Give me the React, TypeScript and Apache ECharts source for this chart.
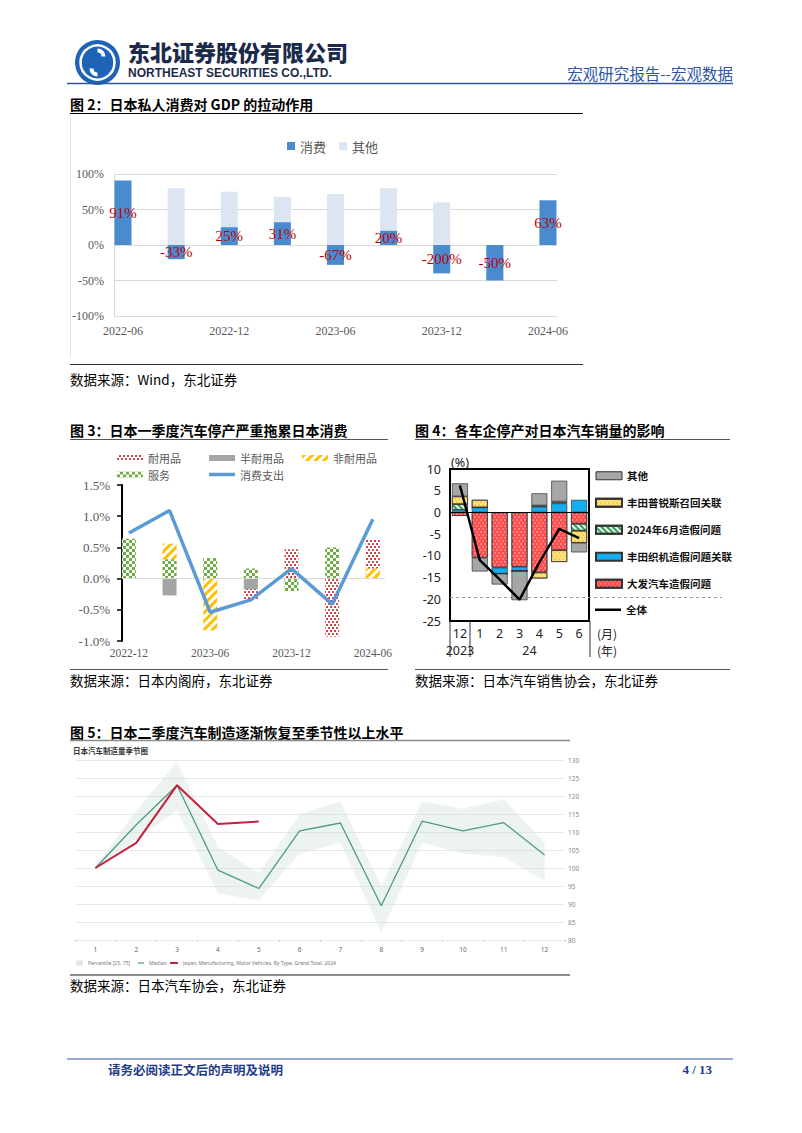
import { useEffect, useRef } from 'react';
import * as echarts from 'echarts';

// ---------- Figure 2 ----------
const fig2Cats = ['2022-06', '2022-09', '2022-12', '2023-03', '2023-06', '2023-09', '2023-12', '2024-03', '2024-06'];
const fig2Consumption = [91, -20, 25, 32, -28, 20, -40, -50, 63];
const fig2Other = [9, 80, 75, 68, 72, 80, 60, -50, 37];
const fig2Labels = ['91%', '-33%', '25%', '31%', '-67%', '20%', '-200%', '-50%', '63%'];
const fig2TickIdx = [0, 2, 4, 6, 8];

// ---------- Figure 3 ----------
const fig3Cats = ['2022-12', '2023-03', '2023-06', '2023-09', '2023-12', '2024-03', '2024-06'];
const fig3Durable = [0.12, 0.49, -0.13, -0.33, 0.47, -0.93, 0.62];
const fig3SemiDurable = [0, -0.27, 0.16, -0.17, -0.05, 0.03, 0.11];
const fig3NonDurable = [0.02, 0.56, -0.83, 0, -0.06, 0, 0.16];
const fig3Services = [0.64, 0.31, 0.33, 0.16, -0.2, 0.5, 0];
const fig3Total = [0.73, 1.09, -0.54, -0.34, 0.16, -0.41, 0.95];
const fig3TickIdx = [0, 2, 4, 6];

// ---------- Figure 4 ----------
const fig4Cats = ['12', '1', '2', '3', '4', '5', '6'];
const fig4Daihatsu = [-0.8, -10.4, -12.7, -12.5, -13.8, -8.7, -2.6];
const fig4ToyotaInd = [0.6, 1.15, -1.4, -1.0, 1.3, 2.1, 2.9];
const fig4June = [1.3, 0, 0, 0, 0.3, 0.4, -1.6];
const fig4Prius = [1.8, 1.75, 0, 0, -1.4, -2.7, -2.8];
const fig4Other = [3.0, -3.2, -2.5, -6.7, 2.8, 4.8, -2.2];
const fig4Total = [6.2, -11.0, -15.4, -20.1, -11.5, -3.8, -5.9];
const fig4RefLevel = -19.5;

// ---------- Figure 5 ----------
const fig5Months = ['1', '2', '3', '4', '5', '6', '7', '8', '9', '10', '11', '12'];
const fig5P25 = [99.5, 108, 116, 93, 91, 104, 107, 82, 107, 104, 103, 96.5];
const fig5P75 = [100.5, 116, 129.5, 106, 98.5, 115, 118.5, 95, 118.5, 116.5, 119, 107];
const fig5Median = [100, 112, 123, 99.4, 94.3, 110.3, 112.5, 89.5, 113, 110.3, 112.6, 103.6];
const fig5Y2024 = [100, 107, 123, 112.2, 112.9];
const fig5Name2024 = 'Japan, Manufacturing, Motor Vehicles, By Type, Grand Total, 2024';

const SERIF = '"Liberation Serif", "Times New Roman", serif';
const CJK = '"Noto Sans CJK SC", "Noto Sans", sans-serif';

const dotRed = { symbol: 'circle', symbolSize: 0.9, color: '#C00000', dashArrayX: [[2, 2], [0, 2, 2, 0]], dashArrayY: [2, 1] };
const stripeYellow = { symbol: 'rect', symbolSize: 1, color: '#FFC000', dashArrayX: [1, 0], dashArrayY: [2.5, 2.5], rotation: -Math.PI / 4 };
const checkGreen = { symbol: 'rect', symbolSize: 1, color: '#70AD47', dashArrayX: [[3, 3], [0, 3, 3, 0]], dashArrayY: [3, 0] };
const dotPink = { symbol: 'circle', symbolSize: 0.7, color: 'rgba(255,215,215,0.9)', dashArrayX: [[1.5, 1.5], [0, 1.5, 1.5, 0]], dashArrayY: [1.5, 0.5] };
const stripeGreen = { symbol: 'rect', symbolSize: 1, color: '#2F9E5C', dashArrayX: [1, 0], dashArrayY: [1.2, 1.8], rotation: Math.PI / 4 };
const dotOrange = { symbol: 'circle', symbolSize: 0.7, color: 'rgba(230,150,0,0.7)', dashArrayX: [[1.5, 1.5], [0, 1.5, 1.5, 0]], dashArrayY: [1.5, 0.5] };

function txt(x: number, y: number, text: string, o: any = {}) {
  return {
    type: 'text', x, y, silent: true,
    style: {
      text,
      fill: o.fill || '#000',
      fontSize: o.fontSize || 14,
      fontWeight: o.fontWeight || 'normal',
      fontFamily: o.fontFamily || CJK,
      textAlign: o.align || 'left',
      textVerticalAlign: 'middle',
    },
  };
}
function ln(x1: number, y1: number, x2: number, y2: number, stroke = '#000', lineWidth = 1, dash?: number[]) {
  return { type: 'line', silent: true, shape: { x1, y1, x2, y2 }, style: { stroke, lineWidth, lineDash: dash } };
}

function fig3Legend(left: number, top: number, name: string, h = 6, extra: any = {}) {
  return {
    left, top, padding: 0, itemWidth: 26, itemHeight: h, selectedMode: false,
    textStyle: { fontSize: 11, color: '#595959' },
    data: [{ name, icon: 'rect', ...extra }],
  };
}
function fig5Legend(left: number, name: string, w: number, h: number, color: string) {
  return {
    left, top: 960.5, padding: 0, itemWidth: w, itemHeight: h, selectedMode: false,
    textStyle: { fontSize: 5, color: '#777', fontFamily: '"Noto Sans", sans-serif' },
    data: [{ name, icon: 'rect', itemStyle: { color } }],
  };
}

function buildOption() {
  const bar2Label = {
    show: true, position: 'inside', color: '#C00000', fontFamily: SERIF, fontSize: 15,
    formatter: (p: any) => fig2Labels[p.dataIndex],
  };
  return {
    animation: false,
    textStyle: { fontFamily: CJK },
    grid: [
      { left: 114, top: 174, width: 443, height: 142, outerBoundsMode: 'none', containLabel: false },
      { left: 122, top: 485, width: 263, height: 156, outerBoundsMode: 'none', containLabel: false },
      { left: 450, top: 469, width: 139, height: 152, show: true, borderColor: '#000', borderWidth: 2, backgroundColor: 'transparent', outerBoundsMode: 'none', containLabel: false },
      { left: 75, top: 760, width: 490, height: 180, outerBoundsMode: 'none', containLabel: false },
    ],
    xAxis: [
      {
        gridIndex: 0, type: 'value', min: -0.17, max: 8.17,
        axisLine: { show: false }, axisTick: { show: false }, splitLine: { show: false },
        axisLabel: { customValues: fig2TickIdx, formatter: (v: number) => fig2Cats[Math.round(v)], color: '#595959', fontFamily: SERIF, fontSize: 12, margin: 9 },
      },
      {
        gridIndex: 1, type: 'value', min: -0.17, max: 6.3,
        axisLine: { show: false }, axisTick: { show: false }, splitLine: { show: false },
        axisLabel: { customValues: fig3TickIdx, formatter: (v: number) => fig3Cats[Math.round(v)], color: '#595959', fontFamily: SERIF, fontSize: 11.5, margin: 6 },
      },
      {
        gridIndex: 2, type: 'category', data: fig4Cats,
        axisLine: { show: false }, axisTick: { show: false },
        axisLabel: { color: '#222', fontSize: 12.5, fontFamily: '"Noto Sans", sans-serif', margin: 6 },
      },
      {
        gridIndex: 3, type: 'category', data: fig5Months,
        axisLine: { show: false }, axisTick: { show: true, length: 2, lineStyle: { color: '#ccc' } },
        axisLabel: { fontSize: 6.5, color: '#666', margin: 6, fontFamily: '"Noto Sans", sans-serif' },
      },
    ],
    yAxis: [
      {
        gridIndex: 0, type: 'value', min: -100, max: 100, interval: 50,
        axisLine: { show: true, onZero: false, lineStyle: { color: '#D9D9D9' } }, axisTick: { show: false },
        splitLine: { lineStyle: { color: '#D9D9D9' } },
        axisLabel: { formatter: '{value}%', color: '#595959', fontFamily: SERIF, fontSize: 12, margin: 10 },
      },
      {
        gridIndex: 1, type: 'value', min: -1, max: 1.5, interval: 0.5,
        axisLine: { show: true, onZero: false, lineStyle: { color: '#000', width: 2 } },
        axisTick: { show: true, length: 5, lineStyle: { color: '#000', width: 1.5 } },
        splitLine: { show: false },
        axisLabel: { formatter: (v: number) => v.toFixed(1) + '%', color: '#595959', fontFamily: SERIF, fontSize: 13, margin: 12 },
      },
      {
        gridIndex: 2, type: 'value', min: -25, max: 10, interval: 5,
        axisLine: { show: false }, axisTick: { show: false }, splitLine: { show: false },
        axisLabel: { color: '#222', fontSize: 12.5, fontFamily: '"Noto Sans", sans-serif', margin: 9 },
      },
      {
        gridIndex: 3, type: 'value', position: 'right', min: 80, max: 130, interval: 5,
        axisLine: { show: false }, axisTick: { show: false },
        splitLine: { lineStyle: { color: '#E9E9E9' } },
        axisLabel: { fontSize: 6.5, color: '#888', margin: 3, fontFamily: '"Noto Sans", sans-serif' },
      },
    ],
    legend: [
      {
        left: 287, top: 139.5, padding: 0, itemWidth: 8, itemHeight: 8, itemGap: 13, selectedMode: false,
        textStyle: { fontSize: 13, color: '#595959', fontFamily: CJK },
        data: [{ name: '消费', icon: 'rect' }, { name: '其他', icon: 'rect' }],
      },
      fig3Legend(117, 452.5, '耐用品'),
      fig3Legend(209, 452.5, '半耐用品'),
      fig3Legend(302, 452.5, '非耐用品'),
      fig3Legend(117, 469, '服务'),
      fig3Legend(209, 469, '消费支出', 3.5, { itemStyle: { color: '#5B9BD5' } }),
      {
        left: 595, top: 470.5, orient: 'vertical', padding: 0, itemWidth: 26, itemHeight: 8, itemGap: 16.5, selectedMode: false,
        textStyle: { fontSize: 10.5, fontWeight: 'bold', color: '#111' },
        data: [
          { name: '其他', icon: 'rect', itemStyle: { color: '#A6A6A6', borderColor: '#333', borderWidth: 1, decal: 'none' } },
          { name: '丰田普锐斯召回关联', icon: 'rect' },
          { name: '2024年6月造假问题', icon: 'rect' },
          { name: '丰田织机造假问题关联', icon: 'rect' },
          { name: '大发汽车造假问题', icon: 'rect' },
        ],
      },
      {
        left: 595, top: 604.5, padding: 0, itemWidth: 26, itemHeight: 2.5, selectedMode: false,
        textStyle: { fontSize: 10.5, fontWeight: 'bold', color: '#111' },
        data: [{ name: '全体', icon: 'rect', itemStyle: { color: '#000' } }],
      },
      fig5Legend(76, 'Percentile [25, 75]', 7, 5, '#DCE8E4'),
      fig5Legend(138, 'Median', 6, 1.2, '#4E9A84'),
      fig5Legend(170, fig5Name2024, 8, 2, '#C5203E'),
    ],
    series: [
      // Figure 2
      {
        name: '消费', type: 'bar', xAxisIndex: 0, yAxisIndex: 0, stack: 'f2', barWidth: 17, z: 3,
        itemStyle: { color: '#4A8BD0' }, label: bar2Label,
        data: fig2Consumption.map((v, i) => [i, v]),
      },
      {
        name: '其他', type: 'bar', xAxisIndex: 0, yAxisIndex: 0, stack: 'f2', barWidth: 17,
        itemStyle: { color: '#DCE6F2' },
        data: fig2Other.map((v, i) => [i, v]),
      },
      // Figure 3
      { name: '耐用品', type: 'bar', xAxisIndex: 1, yAxisIndex: 1, stack: 'f3', barWidth: 14, itemStyle: { color: '#fff', decal: dotRed }, data: fig3Durable.map((v, i) => [i, v]) },
      { name: '半耐用品', type: 'bar', xAxisIndex: 1, yAxisIndex: 1, stack: 'f3', barWidth: 14, itemStyle: { color: '#A5A5A5' }, data: fig3SemiDurable.map((v, i) => [i, v]) },
      { name: '非耐用品', type: 'bar', xAxisIndex: 1, yAxisIndex: 1, stack: 'f3', barWidth: 14, itemStyle: { color: '#fff', decal: stripeYellow }, data: fig3NonDurable.map((v, i) => [i, v]) },
      { name: '服务', type: 'bar', xAxisIndex: 1, yAxisIndex: 1, stack: 'f3', barWidth: 14, itemStyle: { color: '#fff', decal: checkGreen }, data: fig3Services.map((v, i) => [i, v]) },
      {
        name: '消费支出', type: 'line', xAxisIndex: 1, yAxisIndex: 1, symbol: 'none', z: 5,
        lineStyle: { color: '#5B9BD5', width: 3.5 }, itemStyle: { color: '#5B9BD5' },
        data: fig3Total.map((v, i) => [i, v]),
        markLine: { silent: true, symbol: ['none', 'none'], label: { show: false }, lineStyle: { color: '#D9D9D9', width: 1, type: 'solid' }, data: [{ yAxis: 0 }] },
      },
      // Figure 4
      { name: '大发汽车造假问题', type: 'bar', xAxisIndex: 2, yAxisIndex: 2, stack: 'f4', barWidth: 16, itemStyle: { color: '#FF4D4D', borderColor: '#333', borderWidth: 0.7, decal: dotPink }, data: fig4Daihatsu },
      { name: '丰田织机造假问题关联', type: 'bar', xAxisIndex: 2, yAxisIndex: 2, stack: 'f4', barWidth: 16, itemStyle: { color: '#12AEEF', borderColor: '#333', borderWidth: 0.7 }, data: fig4ToyotaInd },
      { name: '2024年6月造假问题', type: 'bar', xAxisIndex: 2, yAxisIndex: 2, stack: 'f4', barWidth: 16, itemStyle: { color: '#EEF8E8', borderColor: '#333', borderWidth: 0.7, decal: stripeGreen }, data: fig4June },
      { name: '丰田普锐斯召回关联', type: 'bar', xAxisIndex: 2, yAxisIndex: 2, stack: 'f4', barWidth: 16, itemStyle: { color: '#FFE27A', borderColor: '#333', borderWidth: 0.7, decal: dotOrange }, data: fig4Prius },
      { name: '其他', type: 'bar', xAxisIndex: 2, yAxisIndex: 2, stack: 'f4', barWidth: 16, itemStyle: { color: '#A6A6A6', borderColor: '#333', borderWidth: 0.7 }, data: fig4Other },
      {
        name: '全体', type: 'line', xAxisIndex: 2, yAxisIndex: 2, symbol: 'none', z: 5,
        lineStyle: { color: '#000', width: 2.5 }, itemStyle: { color: '#000' }, data: fig4Total,
        markLine: { silent: true, symbol: ['none', 'none'], label: { show: false }, lineStyle: { color: '#000', width: 1, type: 'solid' }, data: [{ yAxis: 0 }] },
      },
      // Figure 5
      { name: 'p25', type: 'line', xAxisIndex: 3, yAxisIndex: 3, stack: 'band', symbol: 'none', silent: true, lineStyle: { opacity: 0 }, data: fig5P25 },
      {
        name: 'Percentile [25, 75]', type: 'line', xAxisIndex: 3, yAxisIndex: 3, stack: 'band', symbol: 'none', silent: true,
        lineStyle: { opacity: 0 }, itemStyle: { color: '#DCE8E4' }, areaStyle: { color: 'rgba(200,220,214,0.5)' },
        data: fig5P75.map((v, i) => +(v - fig5P25[i]).toFixed(2)),
      },
      { name: 'Median', type: 'line', xAxisIndex: 3, yAxisIndex: 3, symbol: 'none', z: 4, lineStyle: { color: '#4E9A84', width: 1.3 }, itemStyle: { color: '#4E9A84' }, data: fig5Median },
      { name: fig5Name2024, type: 'line', xAxisIndex: 3, yAxisIndex: 3, symbol: 'none', z: 5, lineStyle: { color: '#C5203E', width: 2 }, itemStyle: { color: '#C5203E' }, data: fig5Y2024 },
    ],
  };
}

function buildGraphic(dashY: number, x2023: number, x24: number) {
  const blue = '#2F5597';
  return [
    // header
    { type: 'circle', silent: true, shape: { cx: 97.5, cy: 62.5, r: 22.5 }, style: { fill: '#1F63B6' } },
    { type: 'circle', silent: true, shape: { cx: 97.5, cy: 62.5, r: 17 }, style: { fill: 'none', stroke: '#fff', lineWidth: 2.5 } },
    { type: 'arc', silent: true, shape: { cx: 97.5, cy: 56.5, r: 6, startAngle: 0, endAngle: Math.PI * 1.5, clockwise: false }, style: { stroke: '#fff', lineWidth: 4, fill: 'none' } },
    { type: 'arc', silent: true, shape: { cx: 97.5, cy: 68.5, r: 6, startAngle: Math.PI, endAngle: Math.PI * 2.5, clockwise: false }, style: { stroke: '#fff', lineWidth: 4, fill: 'none' } },
    txt(128, 50.5, '东北证券股份有限公司', { fontSize: 22, fontWeight: 900, fill: '#1B2A4A' }),
    txt(128, 72.5, 'NORTHEAST SECURITIES CO.,LTD.', { fontSize: 12, fontWeight: 'bold', fill: '#1B2A4A', fontFamily: '"Liberation Sans", Arial, sans-serif' }),
    txt(733, 73, '宏观研究报告--宏观数据', { fontSize: 15.5, fill: '#2D55A5', align: 'right' }),
    ln(67, 83.5, 733, 83.5, blue, 1.5),
    // figure 2
    txt(70, 104, '图 2：日本私人消费对 GDP 的拉动作用', { fontSize: 14, fontWeight: 'bold' }),
    ln(70, 113.5, 583, 113.5, '#000', 1),
    ln(70.5, 118, 70.5, 357, '#E3E3E3', 1),
    ln(70, 364.5, 583, 364.5, '#000', 0.8),
    txt(70, 379, '数据来源：Wind，东北证券', { fontSize: 13.5 }),
    // figure 3
    txt(70, 430, '图 3：日本一季度汽车停产严重拖累日本消费', { fontSize: 14, fontWeight: 'bold' }),
    ln(70, 439.5, 388, 439.5, '#555', 1),
    ln(70, 669.5, 388, 669.5, '#555', 1),
    txt(70, 680, '数据来源：日本内阁府，东北证券', { fontSize: 13.5 }),
    // figure 4
    txt(415, 430, '图 4：各车企停产对日本汽车销量的影响', { fontSize: 14, fontWeight: 'bold' }),
    ln(415, 439.5, 730, 439.5, '#555', 1),
    ln(415, 669.5, 730, 669.5, '#555', 1),
    txt(415, 680, '数据来源：日本汽车销售协会，东北证券', { fontSize: 13.5 }),
    txt(460, 462, '(%)', { fontSize: 12.5, align: 'center', fontFamily: '"Noto Sans", sans-serif', fill: '#222' }),
    ln(450, 621, 450, 657, '#333', 1),
    ln(470, 621, 470, 657, '#333', 1),
    ln(590, 621, 590, 657, '#333', 1),
    txt(x2023, 650, '2023', { fontSize: 12.5, align: 'center', fontFamily: '"Noto Sans", sans-serif', fill: '#222' }),
    txt(x24, 650, '24', { fontSize: 12.5, align: 'center', fontFamily: '"Noto Sans", sans-serif', fill: '#222' }),
    txt(597, 633, '(月)', { fontSize: 12, fill: '#222' }),
    txt(597, 650, '(年)', { fontSize: 12, fill: '#222' }),
    ln(450, dashY, 722, dashY, '#9A9A9A', 1, [3, 3]),
    // figure 5
    txt(70, 732, '图 5：日本二季度汽车制造逐渐恢复至季节性以上水平', { fontSize: 14, fontWeight: 'bold' }),
    ln(70, 740.5, 570, 740.5, '#8C8C8C', 1.5),
    txt(73, 750, '日本汽车制造量季节图', { fontSize: 7.5, fontWeight: 'bold', fill: '#333' }),
    ln(70, 975, 570, 975, '#8C8C8C', 2),
    txt(70, 985, '数据来源：日本汽车协会，东北证券', { fontSize: 13.5 }),
    // footer
    ln(67, 1059, 733, 1059, blue, 1.2),
    txt(108, 1069, '请务必阅读正文后的声明及说明', { fontSize: 12.5, fontWeight: 'bold', fill: '#1F3C88' }),
    txt(712, 1069, '4 / 13', { fontSize: 13, fontWeight: 'bold', fill: '#1F3C88', align: 'right', fontFamily: SERIF }),
  ];
}

export default function App() {
  const ref = useRef<HTMLDivElement>(null);
  useEffect(() => {
    if (!ref.current) return;
    const chart = echarts.init(ref.current, null, { renderer: 'svg' });
    chart.setOption(buildOption() as any);
    const dashY = chart.convertToPixel({ yAxisIndex: 2 } as any, fig4RefLevel) as unknown as number;
    const x2023 = chart.convertToPixel({ xAxisIndex: 2 } as any, 0) as unknown as number;
    const x3 = chart.convertToPixel({ xAxisIndex: 2 } as any, 3) as unknown as number;
    const x4 = chart.convertToPixel({ xAxisIndex: 2 } as any, 4) as unknown as number;
    chart.setOption({ graphic: buildGraphic(Math.round(dashY) + 0.5, x2023, (x3 + x4) / 2) } as any);
    return () => chart.dispose();
  }, []);
  return (
    <div
      ref={ref}
      style={{ position: 'absolute', left: 0, top: 0, width: 802, height: 1133, background: '#fff' }}
    />
  );
}
